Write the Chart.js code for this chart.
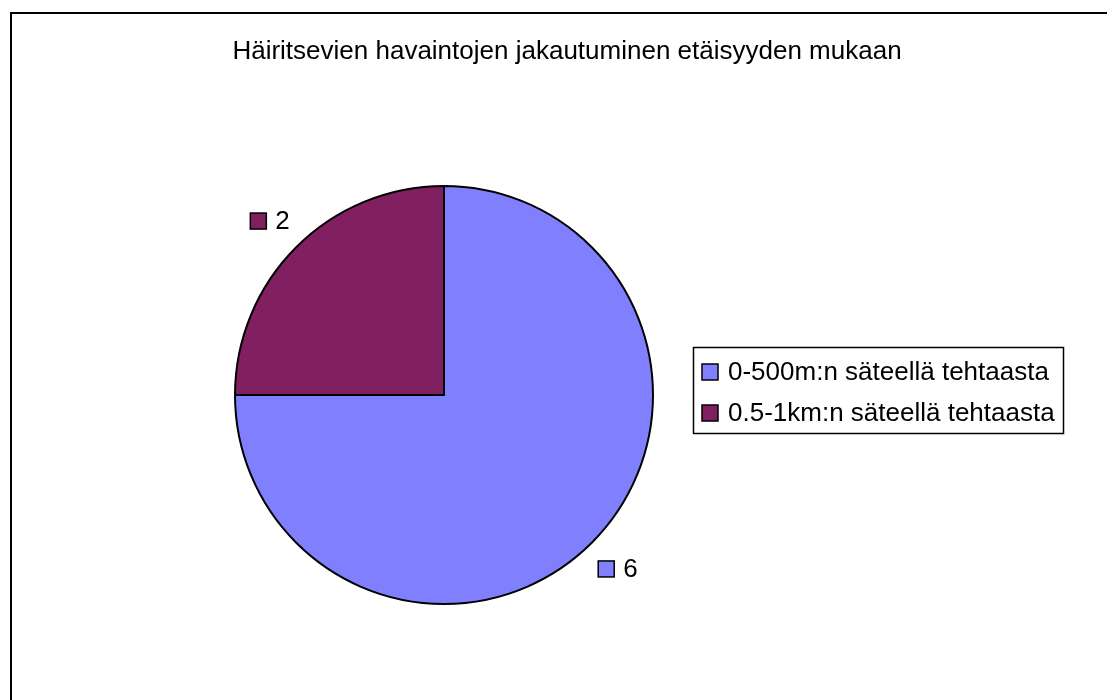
<!DOCTYPE html>
<html>
<head>
<meta charset="utf-8">
<script src="https://cdn.jsdelivr.net/npm/chart.js@4.4.1/dist/chart.umd.min.js"></script>
<style>
  body { margin: 0; background: #fff; }
  #wrap { position: relative; width: 1107px; height: 700px; }
</style>
</head>
<body>
<div id="wrap"><canvas id="myChart" width="1107" height="700"></canvas></div>
<script>
var chartTitle = 'Häiritsevien havaintojen jakautuminen etäisyyden mukaan';
var categories = ['0-500m:n säteellä tehtaasta', '0.5-1km:n säteellä tehtaasta'];
var dataValues = [6, 2];
var sliceColors = ['#8080FF', '#802060'];

var fontFamily = "'Liberation Sans', Arial, sans-serif";

// frame, title, legend box and value labels drawn on top of the pie
var extrasPlugin = {
    id: 'extras',
    afterDraw: function (chart) {
        var ctx = chart.ctx;
        ctx.save();

        // outer frame (cut off at right and bottom like the original)
        ctx.strokeStyle = '#000';
        ctx.lineWidth = 2;
        ctx.beginPath();
        ctx.moveTo(11, 710);
        ctx.lineTo(11, 13);
        ctx.lineTo(1110, 13);
        ctx.stroke();

        ctx.font = '26px ' + fontFamily;
        ctx.textBaseline = 'middle';

        // title
        ctx.fillStyle = '#000';
        ctx.textAlign = 'center';
        ctx.fillText(chartTitle, 567, 52);

        // value labels outside each slice
        var meta = chart.getDatasetMeta(0);
        meta.data.forEach(function (arc, i) {
            var mid = (arc.startAngle + arc.endAngle) / 2;
            var r = arc.outerRadius + 37;
            var cx = arc.x + Math.cos(mid) * r;
            var cy = arc.y + Math.sin(mid) * r;
            var txt = String(dataValues[i]);
            var tw = ctx.measureText(txt).width;
            var total = 16 + 9 + tw;
            var x0 = cx - total / 2;
            ctx.fillStyle = sliceColors[i];
            ctx.fillRect(x0, cy - 8, 16, 16);
            ctx.lineWidth = 1.5;
            ctx.strokeStyle = '#000';
            ctx.strokeRect(x0, cy - 8, 16, 16);
            ctx.fillStyle = '#000';
            ctx.textAlign = 'left';
            ctx.fillText(txt, x0 + 25, cy + 1);
        });

        // legend
        var lx = 693, ly = 347, lw = 370, lh = 86;
        ctx.lineWidth = 1.5;
        ctx.strokeStyle = '#000';
        ctx.strokeRect(lx + 0.5, ly + 0.5, lw, lh);
        categories.forEach(function (name, i) {
            var yy = ly + 25 + i * 41;
            ctx.fillStyle = sliceColors[i];
            ctx.fillRect(lx + 9, yy - 8, 16, 16);
            ctx.strokeStyle = '#000';
            ctx.strokeRect(lx + 9, yy - 8, 16, 16);
            ctx.fillStyle = '#000';
            ctx.textAlign = 'left';
            ctx.fillText(name, lx + 35, yy + 1);
        });

        ctx.restore();
    }
};

var ctx1 = document.getElementById('myChart').getContext('2d');
var myChart = new Chart(ctx1, {
    type: 'pie',
    data: {
        labels: categories,
        datasets: [{
            data: dataValues,
            backgroundColor: sliceColors,
            borderColor: '#000',
            borderWidth: 2
        }]
    },
    options: {
        responsive: false,
        animation: false,
        layout: {
            padding: { top: 185, left: 234, right: 453, bottom: 95 }
        },
        plugins: {
            legend: { display: false },
            tooltip: { enabled: false },
            title: { display: false }
        }
    },
    plugins: [extrasPlugin]
});
</script>
</body>
</html>
